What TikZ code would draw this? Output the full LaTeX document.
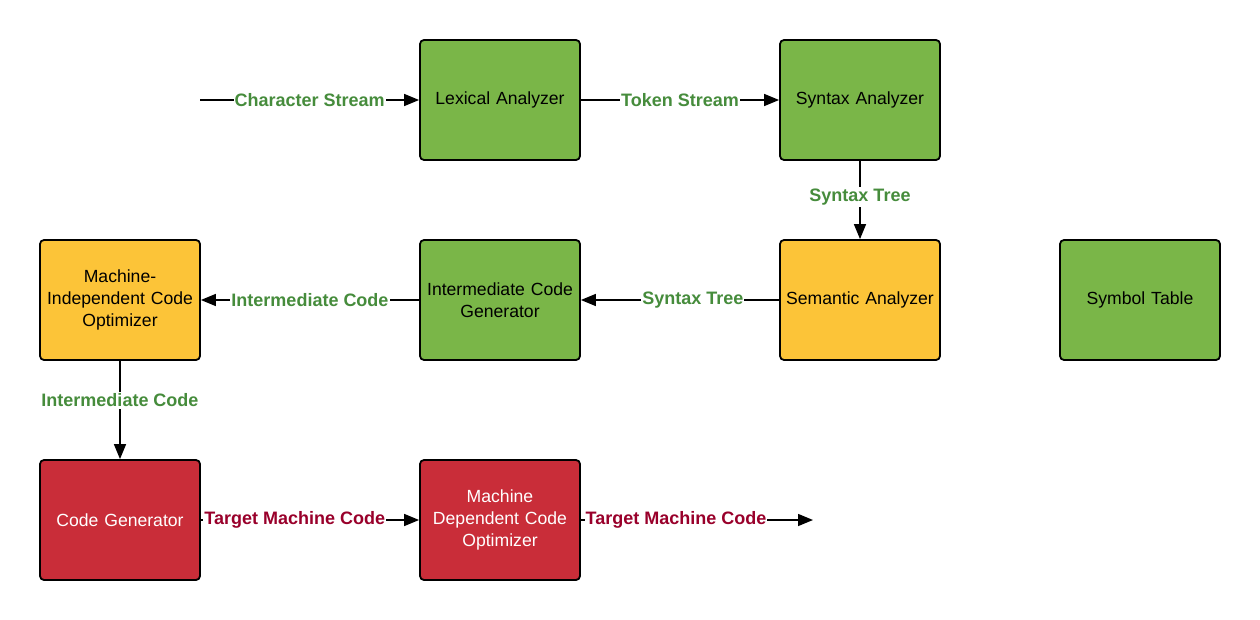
\documentclass[tikz,border=0pt]{standalone}
\usepackage{fontspec}
\setmainfont{Liberation Sans}
\usetikzlibrary{arrows.meta}
\definecolor{boxgreen}{HTML}{7AB648}
\definecolor{boxyellow}{HTML}{FCC438}
\definecolor{boxred}{HTML}{C92D39}
\definecolor{labgreen}{HTML}{468C3C}
\definecolor{labred}{HTML}{99002B}
\tikzset{
  stage/.style={draw=black, line width=1.8pt, rounded corners=4pt, minimum width=160pt, minimum height=120pt, text width=158pt, align=center, font=\fontsize{17.6}{22}\selectfont, inner sep=0pt},
  gbox/.style={stage, fill=boxgreen},
  ybox/.style={stage, fill=boxyellow},
  rbox/.style={stage, fill=boxred, text=white},
  flow/.style={line width=1.5pt, -{Triangle[length=15pt,width=12pt]}},
  glab/.style={fill=white, inner xsep=1pt, inner ysep=2pt, text=labgreen, font=\fontsize{18}{20}\selectfont\bfseries},
  rlab/.style={fill=white, inner xsep=1pt, inner ysep=2pt, text=labred, font=\fontsize{18}{20}\selectfont\bfseries},
}
\begin{document}
\begin{tikzpicture}[x=1pt,y=-1pt]
\useasboundingbox (0,0) rectangle (1260,620);
\node[gbox] (lex) at (500,100) {Lexical Analyzer};
\node[gbox] (syn) at (860,100) {Syntax Analyzer};
\node[ybox] (mico) at (120,300) {Machine-\\Independent Code\\Optimizer};
\node[gbox] (icg) at (500,300) {Intermediate Code\\Generator};
\node[ybox] (sem) at (860,300) {Semantic Analyzer};
\node[gbox] (sym) at (1140,300) {Symbol Table};
\node[rbox] (cg) at (120,520) {Code Generator};
\node[rbox] (mdco) at (500,520) {Machine\\Dependent Code\\Optimizer};
\coordinate (in) at (200,100);
\coordinate (out) at (813,520);
\draw[flow] (in) -- node[glab] {Character Stream} (lex);
\draw[flow] (lex) -- node[glab] {Token Stream} (syn);
\draw[flow] (syn) -- node[glab, pos=0.46] {Syntax Tree} (sem);
\draw[flow] (sem) -- node[glab, pos=0.435] {Syntax Tree} (icg);
\draw[flow] (icg) -- node[glab] {Intermediate Code} (mico);
\draw[flow] (mico) -- node[glab, pos=0.4] {Intermediate Code} (cg);
\draw[flow] (cg) -- node[rlab, pos=0.43] {Target Machine Code} (mdco);
\draw[flow] (mdco) -- node[rlab, pos=0.41] {Target Machine Code} (out);
\end{tikzpicture}
\end{document}
